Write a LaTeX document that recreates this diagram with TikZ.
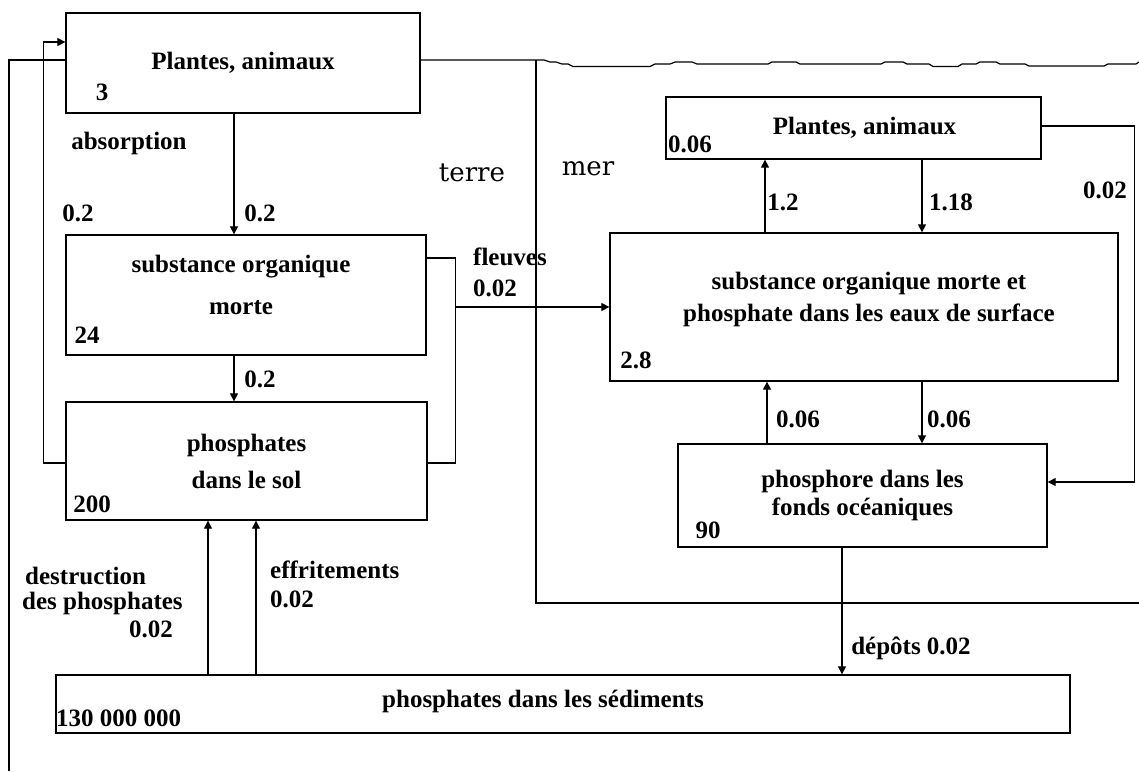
\documentclass[tikz,border=0pt]{standalone}
\usepackage{fontspec}
\setmainfont{Liberation Serif}
\newfontfamily\zonefont{DejaVu Serif}
\usetikzlibrary{calc, arrows.meta}

\tikzset{
    boite/.style={draw, line width=1.3pt, inner sep=0pt, align=center, font=\bfseries\fontsize{25}{30}\selectfont},
    lbl/.style={inner sep=0pt, font=\bfseries\fontsize{25}{30}\selectfont},
    zone/.style={inner sep=0pt, font=\zonefont\fontsize{26}{30}\selectfont},
    fl/.style={line width=1.2pt, -{Triangle[length=8pt,width=8pt]}},
    ln/.style={line width=1.2pt}
}

\begin{document}
\begin{tikzpicture}[x=1pt,y=-1pt]
    \useasboundingbox (0,0) rectangle (1139,771);
    % terre
    \node[boite, minimum width=354pt, minimum height=100pt] (plterre) at (243,63) {Plantes, animaux};
    \node[boite, minimum width=360pt, minimum height=120pt,
        label={[lbl, align=center, xshift=-5pt, yshift=10pt]center:substance organique\\[12pt]morte}] (somterre) at (246,295) {};
    \node[boite, minimum width=361pt, minimum height=118pt] (sol) at (246.5,461) {phosphates\\[7pt]dans le sol};
    % mer
    \node[boite, minimum width=375pt, minimum height=62pt,
        label={[lbl, xshift=11pt]center:Plantes, animaux}] (plmer) at (853.5,128) {};
    \node[boite, minimum width=508pt, minimum height=148pt,
        label={[lbl, align=center, xshift=5pt, yshift=8pt]center:substance organique morte et\\[2pt]phosphate dans les eaux de surface}] (sommer) at (864,307) {};
    \node[boite, minimum width=369pt, minimum height=103pt] (fonds) at (862.5,495.5) {phosphore dans les\\[-2pt]fonds océaniques};
    % sediments
    \node[boite, minimum width=1014pt, minimum height=58pt,
        label={[lbl, xshift=-20pt, yshift=3pt]center:phosphates dans les sédiments}] (sed) at (563,704) {};

    % quantites
    \node[lbl] (v3) at (102,92) {3};
    \node[lbl] (v24) at (87,335) {24};
    \node[lbl] (v200) at (92,504) {200};
    \node[lbl] (v006) at (690,144) {0.06};
    \node[lbl] (v28) at (636,360) {2.8};
    \node[lbl] (v90) at (708,530) {90};
    \node[lbl, anchor=west] (v130) at (56,718) {130 000 000};

    % limite terre / mer
    \draw[ln] ([yshift=3pt]plterre.east) -- (544,60) -- (550,62) -- (556,62) -- (562,64) -- (568,64) -- (573,66.5)
        -- (650,66.5) -- (655,64) -- (670,64) -- (675,62) -- (692,62) -- (697,64) -- (768,64) -- (772,62)
        -- (796,62) -- (800,64) -- (881,64) -- (885,62) -- (903,62) -- (907,64) -- (929,64) -- (933,66.5)
        -- (958,66.5) -- (962,64) -- (976,64) -- (980,62) -- (996,62) -- (1000,64) -- (1025,64) -- (1029,66)
        -- (1104,66) -- (1108,64) -- (1136,64) -- (1139,62);
    \draw[ln] (536,60) -- (536,603) -- (1139,603);
    \node[zone] (terre) at (472,173) {terre};
    \node[zone] (mer) at (588,169) {mer};

    % flux terre
    \draw[fl] ([xshift=-9pt]plterre.south) -- ([xshift=-9pt]plterre.south |- somterre.north);
    \node[lbl] at (260,213) {0.2};
    \draw[fl] ([xshift=-12pt]somterre.south) -- ([xshift=-12pt]somterre.south |- sol.north);
    \node[lbl] at (260,379) {0.2};
    \draw[fl] ([yshift=-2pt]sol.west) -- ++(-22,0) |- ([yshift=21pt]plterre.west);
    \node[lbl] at (129,143) {absorption};
    \node[lbl] at (78,213) {0.2};
    \coordinate (bas) at (9,771);
    \draw[ln] ([yshift=3pt]plterre.west) -| (bas);
    \draw[ln] ([yshift=37pt]somterre.east) -- ++(29,0) coordinate (riv) |- ([yshift=-2pt]sol.east);
    \draw[fl] (riv |- sommer.west) -- (sommer.west);
    \node[lbl] at (510,257) {fleuves};
    \node[lbl] at (495,288) {0.02};

    % flux mer
    \draw[fl] ([xshift=-99pt]sommer.north) -- ([xshift=-99pt]sommer.north |- plmer.south);
    \node[lbl] at (783,202) {1.2};
    \draw[fl] ([xshift=68.5pt]plmer.south) -- ([xshift=68.5pt]plmer.south |- sommer.north);
    \node[lbl] at (951,202) {1.18};
    \draw[fl] ([yshift=2pt]plmer.east) -- ++(93,0) |- ([yshift=13.5pt]fonds.east);
    \node[lbl] at (1105,190) {0.02};
    \draw[fl] ([xshift=-95.5pt]fonds.north) -- ([xshift=-95.5pt]fonds.north |- sommer.south);
    \node[lbl] at (798,419) {0.06};
    \draw[fl] ([xshift=58pt]sommer.south) -- ([xshift=58pt]sommer.south |- fonds.north);
    \node[lbl] at (949,419) {0.06};

    % sediments
    \draw[fl] ([xshift=-20.5pt]fonds.south) -- ([xshift=-20.5pt]fonds.south |- sed.north);
    \node[lbl] at (911,648) {dépôts 0.02};
    \draw[fl] ([xshift=-355pt]sed.north) -- ([xshift=-355pt]sed.north |- sol.south);
    \draw[fl] ([xshift=-307pt]sed.north) -- ([xshift=-307pt]sed.north |- sol.south);
    \node[lbl, anchor=west] at (25,576) {destruction};
    \node[lbl, anchor=west] at (22,603) {des phosphates};
    \node[lbl, anchor=east] at (173,629) {0.02};
    \node[lbl, anchor=west] at (270,570) {effritements};
    \node[lbl, anchor=west] at (270,599) {0.02};
\end{tikzpicture}
\end{document}
